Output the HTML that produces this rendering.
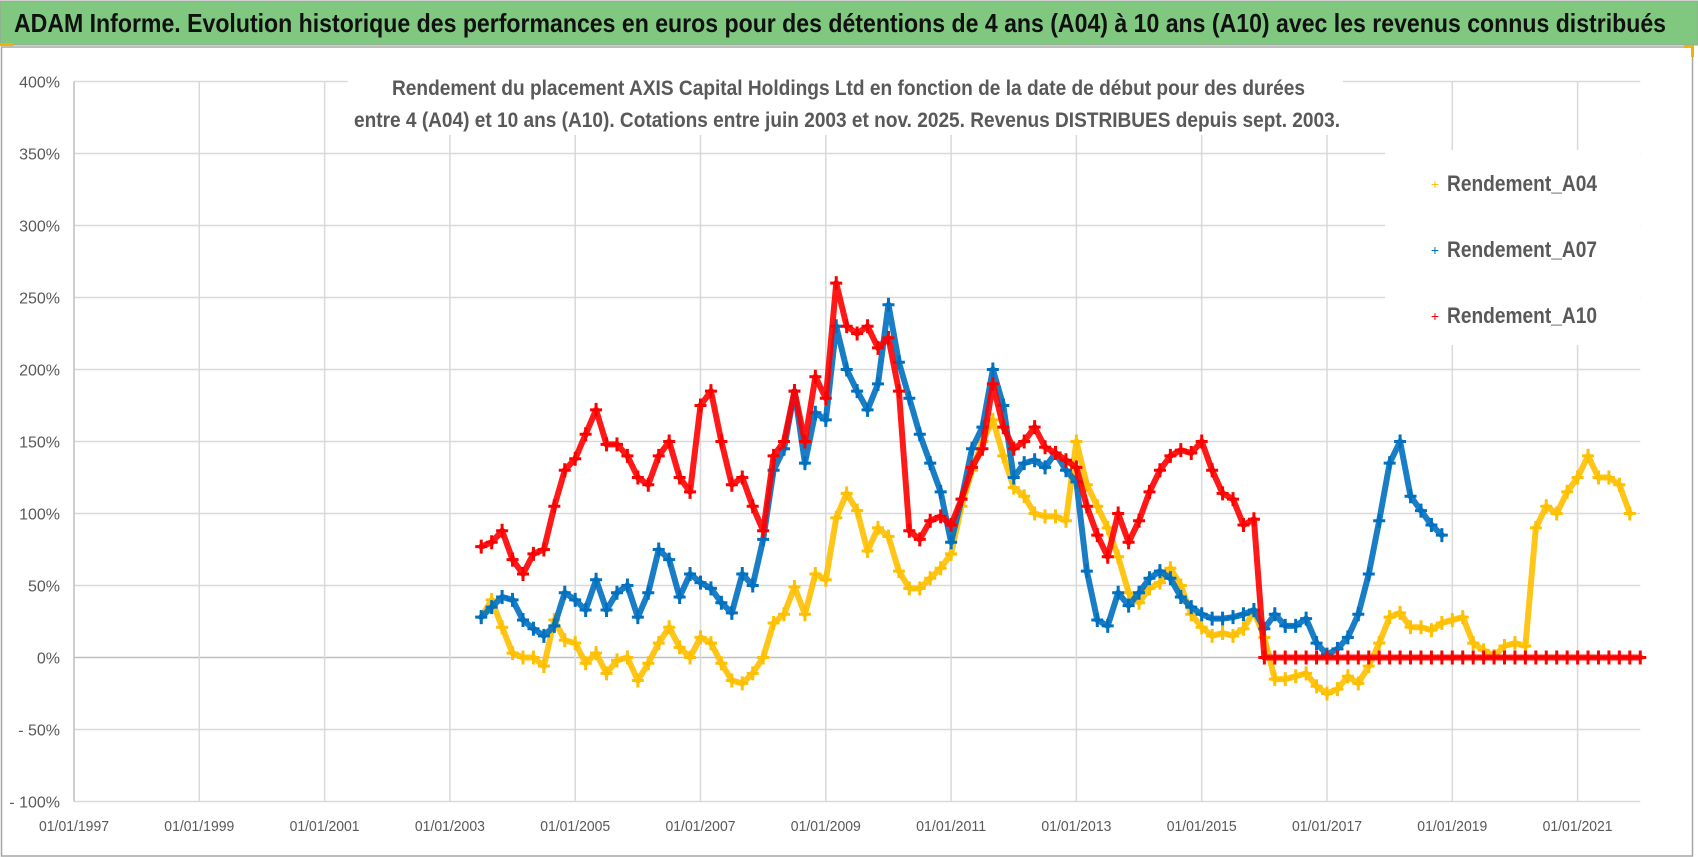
<!DOCTYPE html>
<html><head><meta charset="utf-8">
<style>
html,body{margin:0;padding:0;background:#fff;}
svg{display:block;font-family:"Liberation Sans",sans-serif;}
</style></head>
<body>
<svg id="chart" width="1698" height="857" viewBox="0 0 1698 857" xmlns="http://www.w3.org/2000/svg">
  <rect x="0" y="0" width="1698" height="857" fill="#fff"/>
  <rect x="0" y="1" width="1698" height="44" fill="#80c880" stroke="#a0a0a0" stroke-width="1"/>
  <text x="14" y="32" font-size="26" font-weight="bold" fill="#111" textLength="1652" lengthAdjust="spacingAndGlyphs">ADAM Informe. Evolution historique des performances en euros pour des détentions de 4 ans (A04) à 10 ans (A10) avec les revenus connus distribués</text>
  <rect x="1.5" y="47" width="1691" height="809" fill="none" stroke="#a6a6a6" stroke-width="1.5"/>
  <rect x="0" y="43" width="13" height="3" fill="#f0b400"/>
  <rect x="1684" y="45" width="10" height="3" fill="#f0b400"/>
  <rect x="1691" y="45" width="3" height="12" fill="#f0b400"/>
  <g id="grid"></g>
  <g id="yticks"></g>
  <g id="xticks"></g>
  <rect x="348" y="60" width="995" height="75" fill="#fff"/>
  <text x="392" y="95" font-size="21" font-weight="bold" fill="#595959" textLength="913" lengthAdjust="spacingAndGlyphs">Rendement du placement AXIS Capital Holdings Ltd en fonction de la date de début pour des durées</text>
  <text x="354" y="127" font-size="21" font-weight="bold" fill="#595959" textLength="986" lengthAdjust="spacingAndGlyphs">entre 4 (A04) et 10 ans (A10). Cotations entre juin 2003 et nov. 2025. Revenus DISTRIBUES depuis sept. 2003.</text>
  <g id="series"></g>
  <g>
    <rect x="1385" y="150" width="255" height="195" fill="#fff"/>
    <g>
      <text x="1435" y="189" font-size="14" fill="#ffc000" text-anchor="middle">+</text>
      <text x="1447" y="191" font-size="22" font-weight="bold" fill="#595959" textLength="150" lengthAdjust="spacingAndGlyphs">Rendement_A04</text>
    </g>
    <g>
      <text x="1435" y="255" font-size="14" fill="#0070c0" text-anchor="middle">+</text>
      <text x="1447" y="257" font-size="22" font-weight="bold" fill="#595959" textLength="150" lengthAdjust="spacingAndGlyphs">Rendement_A07</text>
    </g>
    <g>
      <text x="1435" y="321" font-size="14" fill="#ff0000" text-anchor="middle">+</text>
      <text x="1447" y="323" font-size="22" font-weight="bold" fill="#595959" textLength="150" lengthAdjust="spacingAndGlyphs">Rendement_A10</text>
    </g>
  </g>
</svg>
<script>
// ---- data ----
const yTickValues = [400,350,300,250,200,150,100,50,0,-50,-100];
const yTickLabels = ["400%","350%","300%","250%","200%","150%","100%","50%","0%","- 50%","- 100%"];
const xTickYears = [1997,1999,2001,2003,2005,2007,2009,2011,2013,2015,2017,2019,2021];
const xTickLabels = ["01/01/1997","01/01/1999","01/01/2001","01/01/2003","01/01/2005","01/01/2007","01/01/2009","01/01/2011","01/01/2013","01/01/2015","01/01/2017","01/01/2019","01/01/2021"];
const sampleStep = 1/6;
const a04Start = 2003.5;
const a04Values = [28,40,21,3,0,0,-6,26,12,10,-4,3,-11,-2,0,-16,-4,10,21,7,0,14,10,-4,-16,-18,-11,0,24,30,49,30,58,54,97,114,102,74,90,84,
  60,48,48,55,62,72,105,130,150,165,140,118,112,100,98,98,95,150,120,105,90,70,45,38,48,52,62,50,30,21,15,17,15,20,32,14,
  -15,-15,-13,-11,-20,-25,-22,-13,-18,-6,10,28,31,21,21,19,24,26,28,10,5,1,8,10,8,
  90,105,100,115,125,140,125,125,120,100];
const a07Start = 2003.5;
const a07Values = [28,35,42,40,26,20,15,22,45,40,33,54,33,45,50,28,45,75,68,42,58,52,48,38,31,58,50,82,130,145,185,135,170,165,230,200,185,172,190,245,
  205,180,155,135,115,80,110,145,160,200,175,125,135,137,132,142,130,122,60,26,22,45,36,45,55,60,55,42,35,30,27,27,28,30,33,
  20,30,22,22,27,10,2,6,14,30,58,95,135,150,112,102,92,85];
const a10Start = 2003.5;
const a10Values = [77,80,88,68,58,72,75,105,130,138,155,172,148,148,140,125,120,140,150,125,115,175,185,150,120,125,105,88,140,150,185,150,195,180,260,230,225,230,215,222,
  185,88,82,95,98,92,110,132,145,190,160,145,150,160,146,142,137,132,105,85,70,100,80,95,115,130,140,144,142,150,130,114,110,92,96,
  0,0,0,0,0,0,0,0,0,0,0,0,0,0,0,0,0,0,0,0,0,0,0,0,0,0,0,0,0,0,0,0,0,0,0,0,0];
// ---- axes ----
const X0 = 74, PX_PER_YEAR = 62.65, Y0 = 657.5, PX_PER_PCT = 1.44;
function xScale(year){ return X0 + (year - 1997) * PX_PER_YEAR; }
function yScale(v){ return Y0 - v * PX_PER_PCT; }
const NS = "http://www.w3.org/2000/svg";
function mk(tag, attrs, parent){ const e = document.createElementNS(NS, tag); for (const k in attrs) e.setAttribute(k, attrs[k]); parent.appendChild(e); return e; }
const grid = document.getElementById('grid');
const plotLeft = xScale(1997), plotRight = xScale(2022);
yTickValues.forEach((v, i) => {
  const l = mk('line', {x1: plotLeft, x2: plotRight, y1: yScale(v), y2: yScale(v), stroke: v === 0 ? '#bfbfbf' : '#d9d9d9', 'stroke-width': 1.5}, grid);
  
  
  const t = mk('text', {x: 60, y: yScale(v) + 6, 'font-size': 16, fill: '#595959', 'text-anchor': 'end'}, document.getElementById('yticks'));
  t.textContent = yTickLabels[i];
  
  
});
xTickYears.forEach((yr, i) => {
  const l = mk('line', {x1: xScale(yr), x2: xScale(yr), y1: yScale(400), y2: yScale(-100), stroke: i === 0 ? '#bfbfbf' : '#d9d9d9', 'stroke-width': 1.5}, grid);
  
  
  const t = mk('text', {x: xScale(yr), y: 831, 'font-size': 15, fill: '#595959', 'text-anchor': 'middle', textLength: 70, lengthAdjust: 'spacingAndGlyphs'}, document.getElementById('xticks'));
  t.textContent = xTickLabels[i];
  
  
});
// ---- series ----
function drawSeries(name, start, values, color){
  const g = mk('g', {}, document.getElementById('series'));
  
  
  const pts = values.map((v, i) => [xScale(start + i * sampleStep), yScale(v)]);
  const pl = mk('polyline', {points: pts.map(p => p.join(',')).join(' '), fill: 'none', stroke: color, 'stroke-width': 6, 'stroke-linejoin': 'round', 'stroke-linecap': 'round', opacity: 0.9}, g);
  
  
  pts.forEach(p => {
    const m = mk('path', {d: `M${p[0]-6},${p[1]}h12M${p[0]},${p[1]-7}v14`, stroke: color, 'stroke-width': 3}, g);
    
    
  });
}
drawSeries('series-a04', a04Start, a04Values, '#ffc000');
drawSeries('series-a07', a07Start, a07Values, '#0070c0');
drawSeries('series-a10', a10Start, a10Values, '#ff0000');
</script>
</body></html>
